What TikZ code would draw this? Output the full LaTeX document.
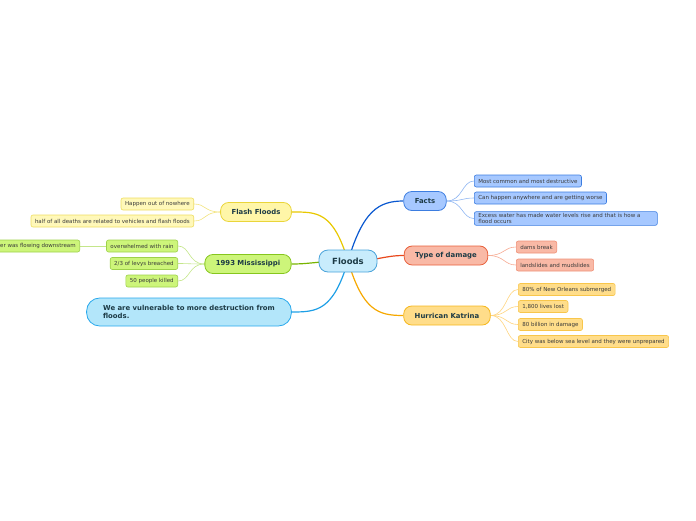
\documentclass[tikz,border=0pt]{standalone}
\usepackage{fontspec}
\setmainfont{DejaVu Sans}
\usepackage{xcolor}
\usetikzlibrary{positioning,backgrounds}
\definecolor{inkmain}{HTML}{1C3A45}
\definecolor{inksub}{HTML}{3A3A3A}
\definecolor{centfill}{HTML}{C8ECFC}\definecolor{centline}{HTML}{4AA3DA}
\definecolor{factfill}{HTML}{A6C8FF}\definecolor{factline}{HTML}{3C7DE0}\definecolor{factlink}{HTML}{0A58D0}\definecolor{factsub}{HTML}{8FB6F2}
\definecolor{dmgfill}{HTML}{F9B9A6}\definecolor{dmgline}{HTML}{E8603C}\definecolor{dmglink}{HTML}{E8481C}\definecolor{dmgsub}{HTML}{F6A890}
\definecolor{katfill}{HTML}{FFDD8A}\definecolor{katline}{HTML}{F6B81E}\definecolor{katlink}{HTML}{F6A800}\definecolor{katsub}{HTML}{FFD47E}
\definecolor{flashfill}{HTML}{FFF6A8}\definecolor{flashline}{HTML}{EAD53A}\definecolor{flashlink}{HTML}{E8C800}\definecolor{flashsub}{HTML}{F2E37E}
\definecolor{missfill}{HTML}{CDF57A}\definecolor{missline}{HTML}{86C61E}\definecolor{misslink}{HTML}{78B400}\definecolor{misssub}{HTML}{C4E68A}
\definecolor{vulfill}{HTML}{B3E6FA}\definecolor{vulline}{HTML}{28A8EC}\definecolor{vullink}{HTML}{1E9FE6}

\begin{document}
\begin{tikzpicture}[x=1pt,y=-1pt,
  topic/.style 2 args={draw=#2,fill=#1,line width=0.8pt,rounded corners=8pt,
    minimum height=19pt,inner xsep=11pt,inner ysep=2pt,text=inkmain,
    font=\fontsize{6.9}{8}\selectfont\bfseries},
  idea/.style 2 args={draw=#2,fill=#1,line width=0.6pt,rounded corners=2pt,
    minimum height=12pt,inner xsep=4pt,inner ysep=1.5pt,text=inksub,align=left,
    font=\fontsize{5.5}{6.4}\selectfont},
  link/.style={line width=1.2pt},
  twig/.style={line width=0.6pt}]
\useasboundingbox (0,0) rectangle (696,520);
% central topic
\node[draw=centline,fill=centfill,line width=0.8pt,rounded corners=9pt,minimum width=58pt,
  minimum height=22pt,text=inkmain,font=\fontsize{8.5}{10}\selectfont\bfseries] (floods) at (348,261) {Floods};
% main topics
\node[topic={factfill}{factline}] (facts) at (425,201) {Facts};
\node[topic={dmgfill}{dmgline}] (damage) at (446,255.5) {Type of damage};
\node[topic={katfill}{katline}] (katrina) at (447,315.5) {Hurrican Katrina};
\node[topic={flashfill}{flashline}] (flash) at (256,212) {Flash Floods};
\node[topic={missfill}{missline}] (miss) at (248,264) {1993 Mississippi};
\node[topic={vulfill}{vulline},rounded corners=13pt,minimum height=28pt,inner xsep=16.5pt,align=left] (vuln) at (189,312) {We are vulnerable to more destruction from\\floods.};
% facts
\node[idea={factfill}{factline},anchor=west] (common) at (474,181) {Most common and most destructive};
\node[idea={factfill}{factline},anchor=west] (anywhere) at (474,198) {Can happen anywhere and are getting worse};
\node[idea={factfill}{factline},anchor=west,text width=175pt] (excess) at (474,218.5) {Excess water has made water levels rise and that is how a\\flood occurs};
% type of damage
\node[idea={dmgfill}{dmgline!70},anchor=west] (dams) at (516,247) {dams break};
\node[idea={dmgfill}{dmgline!70},anchor=west] (slides) at (516,265) {landslides and mudslides};
% katrina
\node[idea={katfill}{katline!80},anchor=west] (orleans) at (518,289.5) {80\% of New Orleans submerged};
\node[idea={katfill}{katline!80},anchor=west] (lives) at (518,306.5) {1,800 lives lost};
\node[idea={katfill}{katline!80},anchor=west] (billion) at (518,324.5) {80 billion in damage};
\node[idea={katfill}{katline!80},anchor=west] (sealevel) at (518,341.5) {City was below sea level and they were unprepared};
% flash floods
\node[idea={flashfill!80}{flashline!80},anchor=east] (nowhere) at (194,204) {Happen out of nowhere};
\node[idea={flashfill!80}{flashline!80},anchor=east] (deaths) at (194,221) {half of all deaths are related to vehicles and flash floods};
% 1993 mississippi
\node[idea={missfill}{missline!80},anchor=east] (rain) at (178,246) {overwhelmed with rain};
\node[idea={missfill}{missline!80},anchor=east] (levys) at (178,263.5) {2/3 of levys breached};
\node[idea={missfill}{missline!80},anchor=east] (killed) at (178,281) {50 people killed};
\node[idea={missfill}{missline!80},anchor=east] (water) at (80,246) {water was flowing downstream};

\begin{scope}[on background layer]
\draw[link,factlink] (floods.center) .. controls +(15,-50) and +(-25,0) .. (facts.west);
\draw[link,dmglink] (floods.center) .. controls +(30,0) and +(-20,0) .. (damage.west);
\draw[link,katlink] (floods.center) .. controls +(15,50) and +(-25,0) .. (katrina.west);
\draw[link,flashlink] (floods.center) .. controls +(-15,-50) and +(25,0) .. (flash.east);
\draw[link,misslink] (floods.center) .. controls +(-30,0) and +(20,0) .. (miss.east);
\draw[link,vullink] (floods.center) .. controls +(-15,50) and +(25,0) .. (vuln.east);
\foreach \k in {common,anywhere,excess}
  \draw[twig,factsub] (facts.east) .. controls +(16,0) and +(-12,0) .. (\k.west);
\foreach \k in {dams,slides}
  \draw[twig,dmgsub] (damage.east) .. controls +(16,0) and +(-12,0) .. (\k.west);
\foreach \k in {orleans,lives,billion,sealevel}
  \draw[twig,katsub] (katrina.east) .. controls +(16,0) and +(-12,0) .. (\k.west);
\foreach \k in {nowhere,deaths}
  \draw[twig,flashsub] (flash.west) .. controls +(-16,0) and +(12,0) .. (\k.east);
\foreach \k in {rain,levys,killed}
  \draw[twig,misssub] (miss.west) .. controls +(-16,0) and +(12,0) .. (\k.east);
\draw[twig,misssub] (rain) -- (water);
\end{scope}
\end{tikzpicture}
\end{document}
